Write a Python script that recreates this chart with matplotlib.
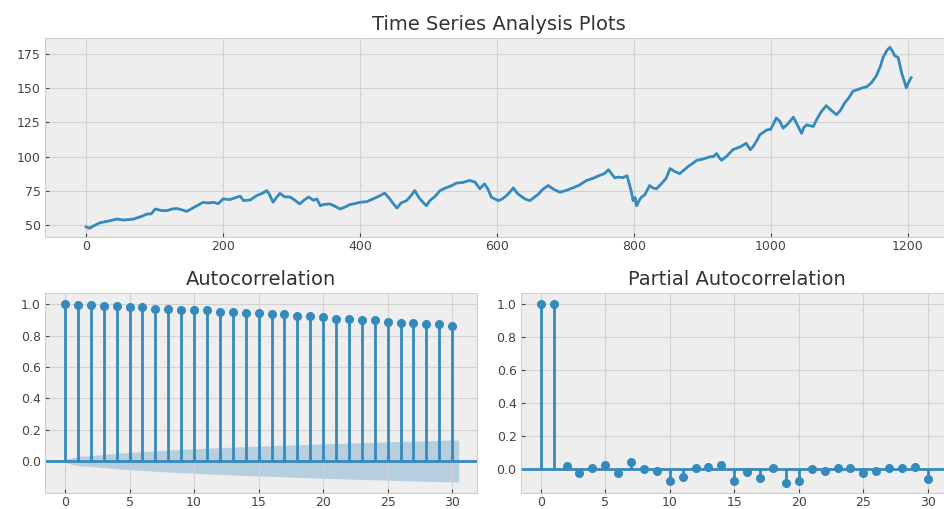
import numpy as np
import matplotlib
matplotlib.use("Agg")
import matplotlib.pyplot as plt

# closing price series (time index, value)
t = [0, 5, 10, 20, 30, 45, 55, 69, 80, 89, 95, 101, 110, 118, 125, 132, 140, 147, 160, 171,
     178, 186, 193, 200, 210, 220, 225, 230, 240, 249, 257, 264, 268, 273, 278, 283, 290, 298, 305, 312,
     318, 325, 332, 337, 340, 342, 348, 356, 364, 371, 378, 385, 392, 400, 410, 419, 428, 436, 442, 448,
     454, 460, 468, 474, 480, 486, 492, 497, 502, 510, 517, 525, 533, 541, 550, 560, 568, 575, 582, 587,
     592, 597, 602, 608, 614, 619, 624, 629, 634, 641, 648, 654, 660, 667, 675, 683, 692, 700, 711, 720,
     731, 740, 750, 757, 763, 768, 772, 778, 784, 790, 792, 796, 799, 802, 804, 808, 811, 816, 823, 828,
     833, 840, 847, 853, 860, 867, 873, 880, 886, 892, 900, 911, 916, 921, 925, 928, 935, 945, 955, 964,
     970, 974, 980, 984, 990, 994, 1000, 1008, 1013, 1018, 1025, 1033, 1038, 1045, 1048, 1052, 1062, 1068, 1074, 1081,
     1088, 1096, 1102, 1108, 1114, 1120, 1127, 1134, 1140, 1147, 1154, 1160, 1164, 1170, 1174, 1178, 1181, 1186, 1191, 1195,
     1198, 1201, 1205]
price = [48.5, 47.5, 49, 51.5, 52.5, 54.2, 53.5, 54.2, 56, 57.9, 58, 61.6, 60.5, 60.4, 61.5, 62, 61, 59.8, 63.5, 66.5,
         66, 66.5, 65.5, 69, 68.5, 70.2, 71, 67.7, 68.3, 71.4, 73, 75.1, 72, 66.5, 70, 73, 70.5, 70.4, 68, 65.3,
         68, 70.4, 68, 69, 66, 64, 65, 65.3, 63.5, 61.6, 63, 64.8, 65.5, 66.5, 67, 69, 71, 73.2, 70, 66,
         62.3, 66, 67.7, 71, 75.1, 70, 66.5, 64, 67.7, 71, 75.1, 77, 78.5, 80.6, 81, 82.5, 81.3, 76.4, 80, 76,
         70.2, 69, 67.7, 69, 71.4, 74, 77.1, 73.5, 71.4, 69, 67.7, 70, 72.2, 76, 78.8, 76, 73.9, 75, 77.1, 79,
         82.5, 84, 86.2, 87.5, 90.4, 87, 84.5, 85, 84.5, 86, 82.5, 75, 67.7, 70, 64, 68, 70.2, 72, 78.8, 77,
         76.4, 80, 84, 91.2, 89, 87.5, 90, 93, 95, 97.3, 98, 99.8, 100, 102.2, 99, 97.3, 100, 105.2, 107, 109.7,
         105, 107.2, 112, 116, 118, 119.5, 120, 128.2, 126, 120.8, 124, 128.9, 124, 117, 121, 123.2, 122, 128, 133, 137.3,
         134, 130.6, 134, 139.3, 143, 147.9, 149, 150.4, 151, 154.1, 159, 166, 172.6, 178, 180, 177, 173.8, 172.6, 161.5, 155,
         150.4, 154, 157.8]

lags = np.arange(31)
acf = [1.0, 0.998, 0.997, 0.99, 0.99, 0.983, 0.983, 0.972, 0.972, 0.962, 0.962,
       0.962, 0.951, 0.951, 0.943, 0.946, 0.936, 0.936, 0.928, 0.928, 0.917,
       0.909, 0.909, 0.898, 0.898, 0.889, 0.883, 0.883, 0.877, 0.874, 0.864]
acf_band = [0.0, 0.03, 0.035, 0.042, 0.049, 0.055, 0.06, 0.065, 0.07, 0.074, 0.078,
            0.082, 0.085, 0.089, 0.092, 0.095, 0.098, 0.101, 0.104, 0.107, 0.11,
            0.112, 0.115, 0.117, 0.12, 0.122, 0.125, 0.127, 0.129, 0.132, 0.134]
pacf = [1.0, 0.999, 0.02, -0.02, 0.006, 0.026, -0.024, 0.042, 0.0, -0.008, -0.069,
        -0.044, 0.006, 0.016, 0.026, -0.069, -0.016, -0.05, 0.006, -0.085, -0.069,
        0.0, -0.008, 0.008, 0.006, -0.024, -0.008, 0.008, 0.008, 0.016, -0.06]

plt.style.use("bmh")
plt.rcParams["font.size"] = 9
plt.rcParams["axes.titlesize"] = 14
plt.rcParams["axes.titlecolor"] = "#333333"
plt.rcParams["grid.linestyle"] = "-"
plt.rcParams["grid.color"] = "#d2d2d2"
plt.rcParams["grid.linewidth"] = 0.8
plt.rcParams["axes.edgecolor"] = "#cfcfcf"
plt.rcParams["xtick.major.size"] = 3
plt.rcParams["ytick.major.size"] = 3
plt.rcParams["xtick.major.pad"] = 2
plt.rcParams["ytick.major.pad"] = 3
plt.rcParams["xtick.color"] = "#444444"
plt.rcParams["ytick.color"] = "#444444"

col = "#348ABD"

fig = plt.figure(figsize=(9.44, 5.09), dpi=100)
ts_ax = fig.add_axes([0.0477, 0.5338, 0.961, 0.391])
acf_ax = fig.add_axes([0.0477, 0.0314, 0.4573, 0.393])
pacf_ax = fig.add_axes([0.5516, 0.0314, 0.4573, 0.393])

# raw series on top
ts_ax.plot(t, price, color=col, lw=2)
ts_ax.set_title("Time Series Analysis Plots")
ts_ax.set_xlim(-60, 1265)
ts_ax.set_xticks([0, 200, 400, 600, 800, 1000, 1200])
ts_ax.set_yticks([50, 75, 100, 125, 150, 175])


def corr_plot(ax, lag, vals, title, ylim, band=None):
    ax.vlines(lag, 0, vals, color=col, lw=2)
    ax.axhline(0, color=col, lw=2)
    ax.plot(lag, vals, "o", color=col, markersize=5.5)
    if band is not None:
        # band is stretched half a lag at both ends
        bx = lag.astype(float)
        bx[0] -= 0.5
        bx[-1] += 0.5
        band = np.array(band)
        ax.fill_between(bx, -band, band, color=col, alpha=0.3, lw=0)
    ax.set_title(title)
    ax.set_xlim(-1.55, 31.9)
    ax.set_ylim(*ylim)
    ax.set_xticks([0, 5, 10, 15, 20, 25, 30])
    ax.set_yticks([0.0, 0.2, 0.4, 0.6, 0.8, 1.0])


corr_plot(acf_ax, lags, acf, "Autocorrelation", (-0.204, 1.072), acf_band)
corr_plot(pacf_ax, lags, pacf, "Partial Autocorrelation", (-0.144, 1.068))

fig.savefig("out.png", dpi=100)
